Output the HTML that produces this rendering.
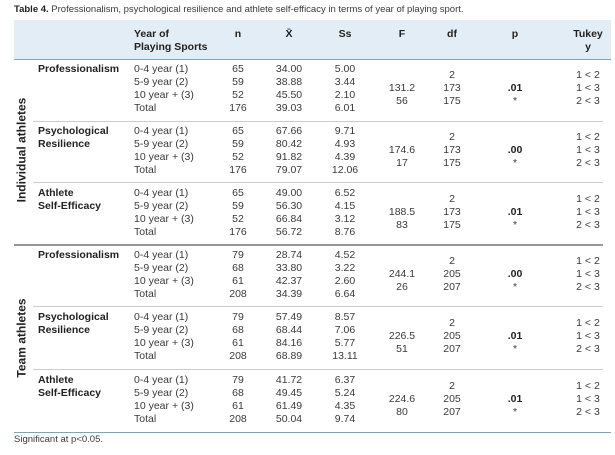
<!DOCTYPE html>
<html><head><meta charset="utf-8"><style>
body{margin:0;width:615px;height:455px;background:#fff;overflow:hidden;font-family:"Liberation Sans",sans-serif;color:#3a3a3a;}
.a{position:absolute;font-size:10.5px;line-height:13px;white-space:nowrap;}
.c{text-align:center;width:60px;}
.b{font-weight:bold;color:#222;}
.hl{position:absolute;height:1px;}
</style></head><body>
<div class="a" style="left:14px;top:3px;font-size:9.5px;"><b style="color:#222">Table 4.</b> Professionalism, psychological resilience and athlete self-efficacy in terms of year of playing sport.</div>
<div style="position:absolute;left:14px;top:20px;width:597px;height:39px;background:#e3edf5;"></div>
<div class="hl" style="left:14px;top:59px;width:597px;background:#6fa8c9;"></div>
<div class="a b" style="left:134px;top:28px;">Year of<br>Playing Sports</div>
<div class="a b c" style="left:208px;top:28px;">n</div>
<div class="a b c" style="left:259px;top:28px;">X̄</div>
<div class="a b c" style="left:315px;top:28px;">Ss</div>
<div class="a b c" style="left:372px;top:28px;">F</div>
<div class="a b c" style="left:422px;top:28px;">df</div>
<div class="a b c" style="left:485px;top:28px;">p</div>
<div class="a b c" style="left:558px;top:28px;">Tukey<br>y</div>
<div class="a b" style="left:22px;top:150px;transform:translate(-50%,-50%) rotate(-90deg);font-size:12px;">Individual athletes</div>
<div class="a b" style="left:22px;top:338px;transform:translate(-50%,-50%) rotate(-90deg);font-size:12px;">Team athletes</div>
<div class="hl" style="left:33px;top:121px;width:570px;background:#ccc;"></div>
<div class="hl" style="left:33px;top:182px;width:570px;background:#ccc;"></div>
<div class="hl" style="left:14px;top:244px;width:589px;height:2px;background:#999;"></div>
<div class="hl" style="left:33px;top:306px;width:570px;background:#ccc;"></div>
<div class="hl" style="left:33px;top:369px;width:570px;background:#ccc;"></div>
<div class="hl" style="left:14px;top:432px;width:597px;background:#6fa8c9;"></div>
<div class="a" style="left:14px;top:433px;font-size:9.5px;">Significant at p&lt;0.05.</div>

<div class="a b" style="left:38px;top:63px;">Professionalism</div>
<div class="a" style="left:134px;top:63px;">0-4 year (1)<br>5-9 year (2)<br>10 year + (3)<br>Total</div>
<div class="a c" style="left:208px;top:63px;">65<br>59<br>52<br>176</div>
<div class="a c" style="left:259px;top:63px;">34.00<br>38.88<br>45.50<br>39.03</div>
<div class="a c" style="left:315px;top:63px;">5.00<br>3.44<br>2.10<br>6.01</div>
<div class="a c" style="left:372px;top:82px;">131.2<br>56</div>
<div class="a c" style="left:422px;top:69px;">2<br>173<br>175</div>
<div class="a c" style="left:485px;top:82px;"><b style="color:#222">.01</b><br>*</div>
<div class="a c" style="left:558px;top:69px;">1 &lt; 2<br>1 &lt; 3<br>2 &lt; 3</div>

<div class="a b" style="left:38px;top:125px;">Psychological<br>Resilience</div>
<div class="a" style="left:134px;top:125px;">0-4 year (1)<br>5-9 year (2)<br>10 year + (3)<br>Total</div>
<div class="a c" style="left:208px;top:125px;">65<br>59<br>52<br>176</div>
<div class="a c" style="left:259px;top:125px;">67.66<br>80.42<br>91.82<br>79.07</div>
<div class="a c" style="left:315px;top:125px;">9.71<br>4.93<br>4.39<br>12.06</div>
<div class="a c" style="left:372px;top:144px;">174.6<br>17</div>
<div class="a c" style="left:422px;top:131px;">2<br>173<br>175</div>
<div class="a c" style="left:485px;top:144px;"><b style="color:#222">.00</b><br>*</div>
<div class="a c" style="left:558px;top:131px;">1 &lt; 2<br>1 &lt; 3<br>2 &lt; 3</div>

<div class="a b" style="left:38px;top:187px;">Athlete<br>Self-Efficacy</div>
<div class="a" style="left:134px;top:187px;">0-4 year (1)<br>5-9 year (2)<br>10 year + (3)<br>Total</div>
<div class="a c" style="left:208px;top:187px;">65<br>59<br>52<br>176</div>
<div class="a c" style="left:259px;top:187px;">49.00<br>56.30<br>66.84<br>56.72</div>
<div class="a c" style="left:315px;top:187px;">6.52<br>4.15<br>3.12<br>8.76</div>
<div class="a c" style="left:372px;top:206px;">188.5<br>83</div>
<div class="a c" style="left:422px;top:193px;">2<br>173<br>175</div>
<div class="a c" style="left:485px;top:206px;"><b style="color:#222">.01</b><br>*</div>
<div class="a c" style="left:558px;top:193px;">1 &lt; 2<br>1 &lt; 3<br>2 &lt; 3</div>

<div class="a b" style="left:38px;top:249px;">Professionalism</div>
<div class="a" style="left:134px;top:249px;">0-4 year (1)<br>5-9 year (2)<br>10 year + (3)<br>Total</div>
<div class="a c" style="left:208px;top:249px;">79<br>68<br>61<br>208</div>
<div class="a c" style="left:259px;top:249px;">28.74<br>33.80<br>42.37<br>34.39</div>
<div class="a c" style="left:315px;top:249px;">4.52<br>3.22<br>2.60<br>6.64</div>
<div class="a c" style="left:372px;top:268px;">244.1<br>26</div>
<div class="a c" style="left:422px;top:255px;">2<br>205<br>207</div>
<div class="a c" style="left:485px;top:268px;"><b style="color:#222">.00</b><br>*</div>
<div class="a c" style="left:558px;top:255px;">1 &lt; 2<br>1 &lt; 3<br>2 &lt; 3</div>

<div class="a b" style="left:38px;top:311px;">Psychological<br>Resilience</div>
<div class="a" style="left:134px;top:311px;">0-4 year (1)<br>5-9 year (2)<br>10 year + (3)<br>Total</div>
<div class="a c" style="left:208px;top:311px;">79<br>68<br>61<br>208</div>
<div class="a c" style="left:259px;top:311px;">57.49<br>68.44<br>84.16<br>68.89</div>
<div class="a c" style="left:315px;top:311px;">8.57<br>7.06<br>5.77<br>13.11</div>
<div class="a c" style="left:372px;top:330px;">226.5<br>51</div>
<div class="a c" style="left:422px;top:317px;">2<br>205<br>207</div>
<div class="a c" style="left:485px;top:330px;"><b style="color:#222">.01</b><br>*</div>
<div class="a c" style="left:558px;top:317px;">1 &lt; 2<br>1 &lt; 3<br>2 &lt; 3</div>

<div class="a b" style="left:38px;top:374px;">Athlete<br>Self-Efficacy</div>
<div class="a" style="left:134px;top:374px;">0-4 year (1)<br>5-9 year (2)<br>10 year + (3)<br>Total</div>
<div class="a c" style="left:208px;top:374px;">79<br>68<br>61<br>208</div>
<div class="a c" style="left:259px;top:374px;">41.72<br>49.45<br>61.49<br>50.04</div>
<div class="a c" style="left:315px;top:374px;">6.37<br>5.24<br>4.35<br>9.74</div>
<div class="a c" style="left:372px;top:393px;">224.6<br>80</div>
<div class="a c" style="left:422px;top:380px;">2<br>205<br>207</div>
<div class="a c" style="left:485px;top:393px;"><b style="color:#222">.01</b><br>*</div>
<div class="a c" style="left:558px;top:380px;">1 &lt; 2<br>1 &lt; 3<br>2 &lt; 3</div>
</body></html>
